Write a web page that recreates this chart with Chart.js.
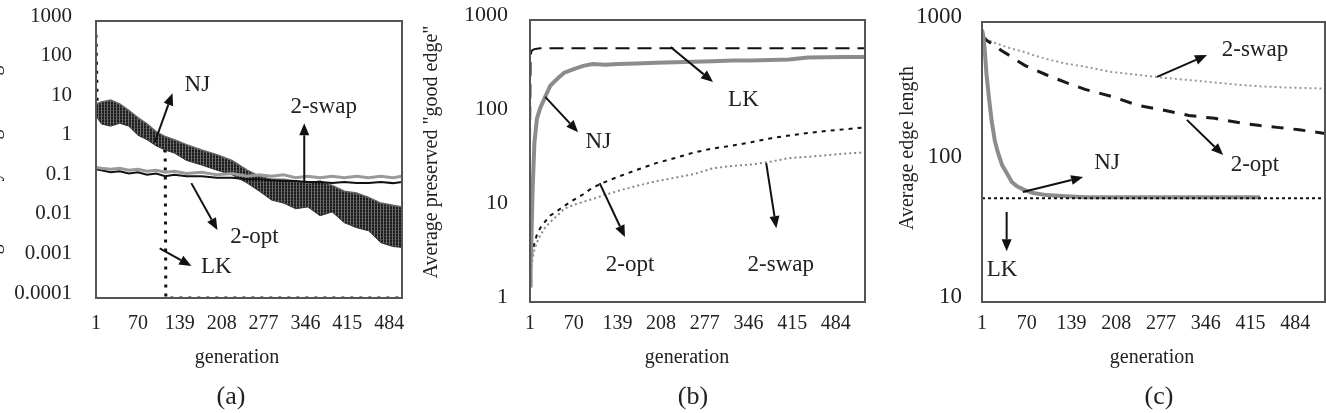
<!DOCTYPE html>
<html>
<head>
<meta charset="utf-8">
<script src="https://cdn.jsdelivr.net/npm/chart.js@4.4.1/dist/chart.umd.min.js"></script>
<style>
  html, body { margin: 0; padding: 0; background: #fff; overflow: hidden; }
  #wrap { position: relative; width: 1326px; height: 413px; }
  #wrap canvas { position: absolute; left: 0; top: 0; }
</style>
</head>
<body>
<div id="wrap">
  <canvas id="chartA" width="1326" height="413"></canvas>
  <canvas id="chartB" width="1326" height="413"></canvas>
  <canvas id="chartC" width="1326" height="413"></canvas>
</div>
<script>
const genTicks = [1, 70, 139, 208, 277, 346, 415, 484];

// (a) lost "good edge" per generation
const yTicksA = [0.0001, 0.001, 0.01, 0.1, 1, 10, 100, 1000];
const gensA = [1, 10, 25, 40, 55, 70, 85, 100, 115, 130, 150, 175, 200, 225, 250, 270, 290, 310, 330, 350, 370, 390, 410, 430, 450, 470, 490, 505];
const njHighA = [8, 9, 10, 8, 5.5, 3.6, 2.5, 1.6, 1.2, 1.0, 0.75, 0.55, 0.42, 0.3, 0.17, 0.12, 0.1, 0.1, 0.09, 0.08, 0.09, 0.07, 0.05, 0.045, 0.035, 0.025, 0.022, 0.02];
const njLowA = [4, 2.5, 2.2, 2.6, 2.2, 1.3, 1.0, 0.7, 0.55, 0.46, 0.3, 0.23, 0.17, 0.13, 0.08, 0.05, 0.03, 0.025, 0.018, 0.02, 0.012, 0.015, 0.008, 0.006, 0.005, 0.0025, 0.002, 0.0019];
const swapA = [0.2, 0.19, 0.18, 0.19, 0.17, 0.18, 0.16, 0.17, 0.15, 0.16, 0.14, 0.15, 0.13, 0.14, 0.12, 0.13, 0.12, 0.13, 0.11, 0.12, 0.11, 0.12, 0.11, 0.12, 0.11, 0.12, 0.11, 0.12];
const optA = [0.18, 0.17, 0.15, 0.16, 0.14, 0.15, 0.13, 0.14, 0.12, 0.13, 0.12, 0.12, 0.11, 0.11, 0.1, 0.1, 0.095, 0.09, 0.09, 0.085, 0.085, 0.08, 0.085, 0.08, 0.08, 0.085, 0.08, 0.085];
const lkGensA = [1, 2, 3, 20, 40, 60, 80, 100, 115, 116, 505];
const lkA = [450, 60, 7, 6, 4.5, 3, 1.8, 1.0, 0.5, 0.0001, 0.0001];

// (b) preserved "good edge"
const yTicksB = [1, 10, 100, 1000];
const gensB = [1, 2, 3, 5, 8, 12, 17, 25, 33, 45, 55, 70, 85, 100, 120, 140, 170, 200, 230, 260, 290, 320, 350, 380, 410, 440, 470, 500, 530];
const njB = [1.5, 2.5, 4, 15, 50, 90, 115, 152, 200, 240, 275, 300, 325, 340, 335, 340, 345, 350, 355, 360, 365, 370, 370, 375, 380, 400, 402, 404, 405];
const lkB = [50, 400, 460, 480, 490, 495, 500, 500, 500, 500, 500, 500, 500, 500, 500, 500, 500, 500, 500, 500, 500, 500, 500, 500, 500, 500, 500, 500, 500];
const optB = [1.6, 2.2, 2.8, 3.5, 4.3, 5.2, 6.1, 7.2, 8.3, 9.4, 10.5, 12.2, 14, 16.5, 19, 21.5, 25.5, 30, 34, 39, 43, 46, 50, 55, 59, 63, 66, 69, 72];
const swapB = [1.3, 1.8, 2.3, 2.9, 3.6, 4.3, 5.1, 6.2, 7.1, 8.4, 9.8, 10.8, 11.6, 12.5, 13.8, 15.2, 17.2, 19.3, 21, 23, 26.5, 28, 29, 31, 34, 35, 36.5, 38, 39];

// (c) average edge length
const yTicksC = [10, 100, 1000];
const gensC = [1, 3, 5, 8, 12, 16, 21, 26, 32, 40, 47, 55, 67, 80, 100, 130, 160, 200, 240, 280, 320, 360, 400, 430, 460, 490, 530];
const njC = [880, 800, 650, 420, 280, 195, 140, 115, 95, 82, 72, 67, 63, 60, 58, 57, 56, 56, 56, 56, 56, 56, 56, 56];
const lkC = [55, 55, 55, 55, 55, 55, 55, 55, 55, 55, 55, 55, 55, 55, 55, 55, 55, 55, 55, 55, 55, 55, 55, 55, 55, 55, 55];
const optC = [800, 780, 760, 740, 720, 700, 680, 650, 620, 590, 560, 530, 490, 460, 420, 370, 330, 295, 255, 235, 215, 205, 190, 182, 176, 170, 160];
const swapC = [820, 800, 780, 760, 740, 725, 710, 695, 680, 660, 645, 630, 610, 580, 545, 505, 480, 440, 420, 400, 385, 370, 355, 347, 342, 338, 335];

const FONT = '"Liberation Serif", "Times New Roman", serif';

function pts(gens, vals) {
  return vals.map((v, i) => ({ x: gens[i], y: v }));
}

function stripePattern(ctx) {
  const c = document.createElement('canvas');
  c.width = 3; c.height = 3;
  const g = c.getContext('2d');
  g.fillStyle = '#1c1c1c'; g.fillRect(0, 0, 3, 3);
  g.fillStyle = '#6e6e6e'; g.fillRect(2, 0, 1, 3);
  g.fillStyle = '#3c3c3c'; g.fillRect(0, 2, 2, 1);
  return ctx.createPattern(c, 'repeat');
}

function arrow(ctx, x0, y0, x1, y1) {
  const ang = Math.atan2(y1 - y0, x1 - x0), L = 12, W = 5;
  const bx = x1 - L * Math.cos(ang), by = y1 - L * Math.sin(ang);
  ctx.beginPath(); ctx.moveTo(x0, y0); ctx.lineTo(bx, by); ctx.lineWidth = 2; ctx.stroke();
  ctx.beginPath(); ctx.moveTo(x1, y1);
  ctx.lineTo(bx + W * Math.sin(ang), by - W * Math.cos(ang));
  ctx.lineTo(bx - W * Math.sin(ang), by + W * Math.cos(ang));
  ctx.closePath(); ctx.fill();
}

const panelDecor = {
  id: 'panelDecor',
  afterDraw(chart, args, o) {
    const ctx = chart.ctx, a = chart.chartArea, sx = chart.scales.x, sy = chart.scales.y;
    ctx.save();
    ctx.strokeStyle = '#555'; ctx.lineWidth = 2;
    ctx.strokeRect(a.left, a.top, a.right - a.left, a.bottom - a.top);
    ctx.fillStyle = '#111'; ctx.strokeStyle = '#111';
    for (const n of o.notes) {
      arrow(ctx, sx.getPixelForValue(n.from[0]), sy.getPixelForValue(n.from[1]),
                 sx.getPixelForValue(n.to[0]), sy.getPixelForValue(n.to[1]));
    }
    ctx.fillStyle = '#222';
    ctx.textAlign = 'center'; ctx.textBaseline = 'middle';
    ctx.font = '23px ' + FONT;
    for (const n of o.notes) {
      ctx.fillText(n.text, sx.getPixelForValue(n.at[0]), sy.getPixelForValue(n.at[1]));
    }
    ctx.font = '20px ' + FONT;
    ctx.fillText('generation', o.genX, 358);
    ctx.font = '26px ' + FONT;
    ctx.fillText(o.caption, o.capX, 397);
    ctx.translate(o.yTitleX, o.yTitleY);
    ctx.rotate(-Math.PI / 2);
    ctx.font = '20px ' + FONT;
    ctx.fillText(o.yTitle, 0, 0);
    ctx.restore();
  }
};

function makePanel(id, cfg) {
  new Chart(document.getElementById(id), {
    type: 'line',
    data: { datasets: cfg.datasets },
    options: {
      responsive: false,
      animation: false,
      events: [],
      layout: { padding: { left: cfg.left - cfg.yWidth, right: 1326 - cfg.right, top: cfg.top, bottom: 0 } },
      elements: { point: { radius: 0 }, line: { tension: 0 } },
      scales: {
        x: {
          type: 'linear', min: 1, max: cfg.maxGen,
          grid: { display: false, drawTicks: false }, border: { display: false },
          afterBuildTicks: s => { s.ticks = genTicks.map(v => ({ value: v })); },
          afterFit: s => { s.height = 413 - cfg.bottom; s.paddingLeft = 0; s.paddingRight = 0; },
          ticks: { font: { family: FONT, size: 20 }, color: '#222', padding: cfg.xPad,
                   maxRotation: 0, autoSkip: false, callback: v => String(v) }
        },
        y: {
          type: 'logarithmic', min: cfg.yTicks[0], max: cfg.yTicks[cfg.yTicks.length - 1],
          grid: { display: false, drawTicks: false }, border: { display: false },
          afterBuildTicks: s => { s.ticks = cfg.yTicks.map(v => ({ value: v })); },
          afterFit: s => { s.width = cfg.yWidth; s.paddingTop = 0; s.paddingBottom = 0; },
          ticks: { font: { family: FONT, size: cfg.ySize }, color: '#222', padding: cfg.yPad,
                   labelOffset: -5, autoSkip: false, callback: v => String(v) }
        }
      },
      plugins: {
        legend: { display: false },
        tooltip: { enabled: false },
        panelDecor: cfg.decor
      }
    },
    plugins: [panelDecor]
  });
}

const ctxA = document.getElementById('chartA').getContext('2d');

makePanel('chartA', {
  left: 96, right: 402, top: 21, bottom: 298, yWidth: 96, maxGen: 505,
  yTicks: yTicksA, ySize: 21, yPad: 24, xPad: 14,
  datasets: [
    { data: pts(gensA, swapA), borderColor: '#9a9a9a', borderWidth: 3, order: 0 },
    { data: pts(gensA, optA), borderColor: '#111', borderWidth: 2, order: 0 },
    { data: pts(gensA, njHighA), borderColor: '#666', borderWidth: 1.5, order: 1 },
    { data: pts(gensA, njLowA), borderColor: '#333', borderWidth: 1, order: 1,
      fill: '-1', backgroundColor: stripePattern(ctxA) },
    { data: pts(lkGensA, lkA), borderColor: '#111', borderWidth: 3, borderDash: [3, 6], order: 2 }
  ],
  decor: {
    genX: 237, capX: 231, caption: '(a)', yTitleX: -6, yTitleY: 175,
    yTitle: 'Average destroyed "good edge"',
    notes: [
      { text: 'NJ', at: [168, 24], from: [98, 0.875], to: [127, 15] },
      { text: '2-swap', at: [376, 6.7], from: [344, 0.08], to: [344, 2.6] },
      { text: '2-opt', at: [262, 0.0035], from: [158, 0.08], to: [201, 0.0052] },
      { text: 'LK', at: [199, 0.00061], from: [106, 0.0018], to: [158, 0.00064] }
    ]
  }
});

makePanel('chartB', {
  left: 530, right: 865, top: 20, bottom: 302, yWidth: 100, maxGen: 530,
  yTicks: yTicksB, ySize: 22, yPad: 22, xPad: 10,
  datasets: [
    { data: pts(gensB, lkB), borderColor: '#111', borderWidth: 2, borderDash: [14, 8] },
    { data: pts(gensB, njB), borderColor: '#8c8c8c', borderWidth: 4 },
    { data: pts(gensB, optB), borderColor: '#111', borderWidth: 2, borderDash: [4, 5] },
    { data: pts(gensB, swapB), borderColor: '#888', borderWidth: 2, borderDash: [2, 3] }
  ],
  decor: {
    genX: 687, capX: 693, caption: '(b)', yTitleX: 432, yTitleY: 152,
    yTitle: 'Average preserved "good edge"',
    notes: [
      { text: 'LK', at: [338, 141], from: [223, 516], to: [290, 219] },
      { text: 'NJ', at: [109, 50], from: [25, 152], to: [77, 64] },
      { text: '2-opt', at: [159, 2.48], from: [111, 18.4], to: [151, 4.9] },
      { text: '2-swap', at: [397, 2.48], from: [374, 30], to: [390, 6.1] }
    ]
  }
});

makePanel('chartC', {
  left: 982, right: 1325, top: 22, bottom: 302, yWidth: 100, maxGen: 530,
  yTicks: yTicksC, ySize: 23, yPad: 20, xPad: 10,
  datasets: [
    { data: pts(gensC, lkC), borderColor: '#111', borderWidth: 2, borderDash: [3, 3] },
    { data: pts(gensC, njC), borderColor: '#8c8c8c', borderWidth: 4 },
    { data: pts(gensC, optC), borderColor: '#1a1a1a', borderWidth: 3, borderDash: [12, 10] },
    { data: pts(gensC, swapC), borderColor: '#999', borderWidth: 2, borderDash: [2, 3] }
  ],
  decor: {
    genX: 1152, capX: 1159, caption: '(c)', yTitleX: 908, yTitleY: 148,
    yTitle: 'Average edge length',
    notes: [
      { text: '2-swap', at: [422, 631], from: [271, 405], to: [348, 581] },
      { text: '2-opt', at: [422, 95], from: [317, 200], to: [373, 112] },
      { text: 'NJ', at: [194, 98], from: [64, 61], to: [157, 78] },
      { text: 'LK', at: [32, 17], from: [39, 44], to: [39, 23] }
    ]
  }
});
</script>
</body>
</html>
